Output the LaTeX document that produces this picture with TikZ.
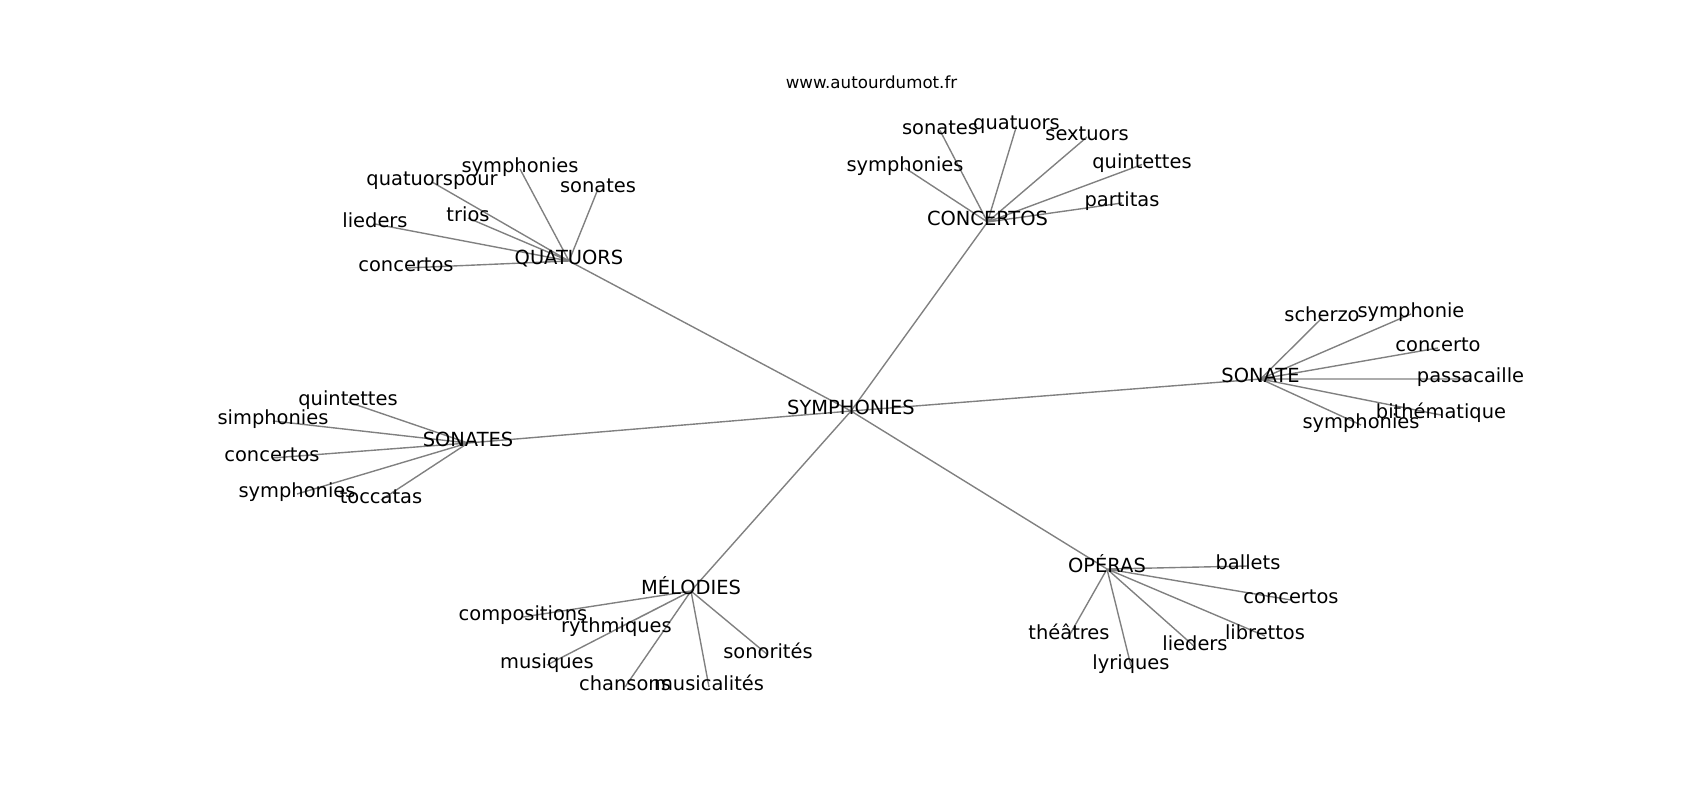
\documentclass[tikz,border=0pt]{standalone}
\usepackage{fontspec}
\setmainfont{DejaVu Sans}
\usetikzlibrary{backgrounds}

\begin{document}
\begin{tikzpicture}[x=0.72pt,y=-0.72pt,
    word/.style={inner sep=0pt,text height=0.76em,text depth=0.208em,font=\fontsize{14}{17}\selectfont},
    link/.style={draw=gray,line width=1pt}]
            \useasboundingbox (0,0) rectangle (1700,800);
            \node[anchor=base,font=\fontsize{12}{14}\selectfont] (site) at (871.5,88.5) {www.autourdumot.fr};
            % centre
            \node[word] (sym) at (851,411) {SYMPHONIES};
            % quatuors
            \node[word] (quat) at (569,261) {QUATUORS};
            \node[word] (quat1) at (520,169) {symphonies};
            \node[word] (quat2) at (432,182) {quatuorspour};
            \node[word] (quat3) at (598,189) {sonates};
            \node[word] (quat4) at (468,218) {trios};
            \node[word] (quat5) at (375,224) {lieders};
            \node[word] (quat6) at (406,268) {concertos};
            % concertos
            \node[word] (conc) at (987.5,222) {CONCERTOS};
            \node[word] (conc1) at (940,130.5) {sonates};
            \node[word] (conc2) at (1016.5,126) {quatuors};
            \node[word] (conc3) at (1087,137) {sextuors};
            \node[word] (conc4) at (905,168) {symphonies};
            \node[word] (conc5) at (1142,164.5) {quintettes};
            \node[word] (conc6) at (1122,203) {partitas};
            % sonate
            \node[word] (sonate) at (1260.5,379) {SONATE};
            \node[word] (sonate1) at (1322,318) {scherzo};
            \node[word] (sonate2) at (1411,314) {symphonie};
            \node[word] (sonate3) at (1438,348) {concerto};
            \node[word] (sonate4) at (1470.5,379) {passacaille};
            \node[word] (sonate5) at (1441,415) {bithématique};
            \node[word] (sonate6) at (1361,425) {symphonies};
            % sonates
            \node[word] (sonates) at (468,443) {SONATES};
            \node[word] (sonates1) at (348,402) {quintettes};
            \node[word] (sonates2) at (273,421) {simphonies};
            \node[word] (sonates3) at (272,458) {concertos};
            \node[word] (sonates4) at (297,494) {symphonies};
            \node[word] (sonates5) at (381,500) {toccatas};
            % melodies
            \node[word] (melo) at (691,591) {MÉLODIES};
            \node[word] (melo1) at (523,617) {compositions};
            \node[word] (melo2) at (616.5,629) {rythmiques};
            \node[word] (melo3) at (547,665) {musiques};
            \node[word] (melo4) at (625,687) {chansons};
            \node[word] (melo5) at (709,687) {musicalités};
            \node[word] (melo6) at (768,655) {sonorités};
            % operas
            \node[word] (opera) at (1107,569) {OPÉRAS};
            \node[word] (opera1) at (1248,566) {ballets};
            \node[word] (opera2) at (1291,600) {concertos};
            \node[word] (opera3) at (1069,636) {théâtres};
            \node[word] (opera4) at (1131,666) {lyriques};
            \node[word] (opera5) at (1195,647) {lieders};
            \node[word] (opera6) at (1265,636) {librettos};
            \begin{scope}[on background layer]
                \draw[link] (sym.center) -- (quat.center) (sym.center) -- (conc.center)
                    (sym.center) -- (sonate.center) (sym.center) -- (sonates.center)
                    (sym.center) -- (melo.center) (sym.center) -- (opera.center);
                \draw[link] (quat.center) -- (quat1.center) (quat.center) -- (quat2.center)
                    (quat.center) -- (quat3.center) (quat.center) -- (quat4.center)
                    (quat.center) -- (quat5.center) (quat.center) -- (quat6.center);
                \draw[link] (conc.center) -- (conc1.center) (conc.center) -- (conc2.center)
                    (conc.center) -- (conc3.center) (conc.center) -- (conc4.center)
                    (conc.center) -- (conc5.center) (conc.center) -- (conc6.center);
                \draw[link] (sonate.center) -- (sonate1.center) (sonate.center) -- (sonate2.center)
                    (sonate.center) -- (sonate3.center) (sonate.center) -- (sonate4.center)
                    (sonate.center) -- (sonate5.center) (sonate.center) -- (sonate6.center);
                \draw[link] (sonates.center) -- (sonates1.center) (sonates.center) -- (sonates2.center)
                    (sonates.center) -- (sonates3.center) (sonates.center) -- (sonates4.center)
                    (sonates.center) -- (sonates5.center);
                \draw[link] (melo.center) -- (melo1.center) (melo.center) -- (melo2.center)
                    (melo.center) -- (melo3.center) (melo.center) -- (melo4.center)
                    (melo.center) -- (melo5.center) (melo.center) -- (melo6.center);
                \draw[link] (opera.center) -- (opera1.center) (opera.center) -- (opera2.center)
                    (opera.center) -- (opera3.center) (opera.center) -- (opera4.center)
                    (opera.center) -- (opera5.center) (opera.center) -- (opera6.center);
            \end{scope}
        \end{tikzpicture}
\end{document}
